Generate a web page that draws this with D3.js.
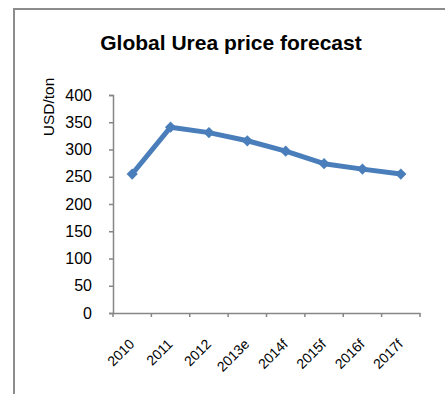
<!DOCTYPE html>
<html>
<head>
<meta charset="utf-8">
<script src="https://cdn.jsdelivr.net/npm/d3@7/dist/d3.min.js"></script>
<style>
  html, body { margin: 0; padding: 0; background: #fff; }
  svg { display: block; font-family: Arial, "Liberation Sans", sans-serif; }
</style>
</head>
<body>
<script>
// Urea price series, USD per ton
const years = ["2010", "2011", "2012", "2013e", "2014f", "2015f", "2016f", "2017f"];
const prices = [255, 341, 331, 316, 297, 274, 264, 255];
const yTicks = [0, 50, 100, 150, 200, 250, 300, 350, 400];

const W = 445, H = 394;
const svg = d3.select("body").append("svg").attr("width", W).attr("height", H);

// chart frame (top and left edges visible)
svg.append("path")
  .attr("d", `M14,${H} L14,9 L${W},9`)
  .attr("fill", "none").attr("stroke", "#8c8c8c").attr("stroke-width", 2);

svg.append("text")
  .attr("x", 231).attr("y", 50)
  .attr("text-anchor", "middle")
  .attr("font-size", 21).attr("font-weight", "bold")
  .text("Global Urea price forecast");

const plotLeft = 113, plotRight = 420, plotTop = 95, plotBottom = 313;
const x = d3.scaleBand().domain(years).range([plotLeft, plotRight]);
const y = d3.scaleLinear().domain([0, 400]).range([plotBottom, plotTop]);

// y axis
const yAxis = svg.append("g").attr("transform", `translate(${plotLeft},0)`)
  .call(d3.axisLeft(y).tickValues(yTicks).tickSize(4).tickPadding(17));
yAxis.select(".domain").attr("stroke", "#868686").attr("stroke-width", 1.5);
yAxis.selectAll(".tick line").attr("stroke", "#868686").attr("stroke-width", 1.5);
yAxis.selectAll(".tick text").attr("font-size", 16).attr("fill", "#000")
  .attr("font-family", "Arial, 'Liberation Sans', sans-serif");

svg.append("text")
  .attr("transform", "translate(54,107) rotate(-90)")
  .attr("text-anchor", "middle")
  .attr("font-size", 15.5)
  .text("USD/ton");

// x axis
const xAxis = svg.append("g").attr("transform", `translate(0,${plotBottom})`)
  .call(d3.axisBottom(x).tickSize(0).tickFormat(""));
xAxis.select(".domain").attr("stroke", "#868686").attr("stroke-width", 1.5);
const edges = years.map(d => x(d)).concat([plotRight]);
xAxis.selectAll(".edge").data(edges).join("line")
  .attr("class", "edge")
  .attr("x1", d => d).attr("x2", d => d)
  .attr("y1", 0).attr("y2", 4)
  .attr("stroke", "#868686").attr("stroke-width", 1.5);

svg.append("g").selectAll("text").data(years).join("text")
  .attr("transform", d => `translate(${x(d) + x.bandwidth() / 2 + 3},345) rotate(-45)`)
  .attr("text-anchor", "end")
  .attr("font-size", 14)
  .text(d => d);

// price line
const pts = years.map((d, i) => [x(d) + x.bandwidth() / 2, y(prices[i])]);
svg.append("path")
  .attr("d", d3.line()(pts))
  .attr("fill", "none")
  .attr("stroke", "#4A7EBB")
  .attr("stroke-width", 5)
  .attr("stroke-linejoin", "round");

svg.append("g").selectAll("path").data(pts).join("path")
  .attr("d", d3.symbol(d3.symbolDiamond2, 80)())
  .attr("transform", d => `translate(${d[0]},${d[1]})`)
  .attr("fill", "#4A7EBB");
</script>
</body>
</html>
